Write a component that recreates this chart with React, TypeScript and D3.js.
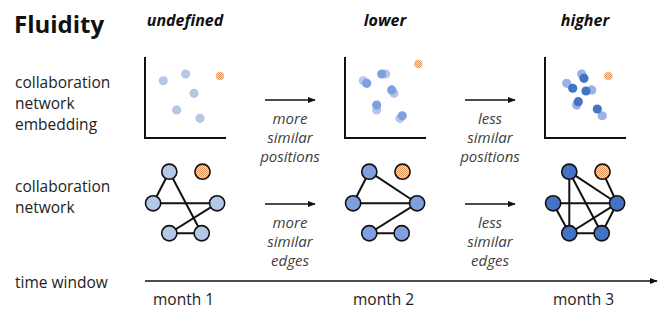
import React from 'react'
import * as d3 from 'd3'

// column headings / time labels
const fluidityLevels = ['undefined', 'lower', 'higher']
const months = ['month 1', 'month 2', 'month 3']
const rowLabels = [['collaboration', 'network', 'embedding'], ['collaboration', 'network']]
const embedNotes = [['more', 'similar', 'positions'], ['less', 'similar', 'positions']]
const edgeNotes = [['more', 'similar', 'edges'], ['less', 'similar', 'edges']]

// embedding coordinates per month (axis units 0..10), last point = isolated (orange) member
const embedX = [
  [2.26, 5.02, 6.05, 3.91, 6.79, 9.26],
  [2.68, 4.53, 5.77, 3.91, 7.07, 9.05],
  [3.42, 4.81, 5.06, 4.11, 6.46, 7.81],
]
const embedY = [
  [7.07, 7.9, 5.52, 3.46, 2.43, 7.65],
  [6.75, 7.9, 5.93, 4.07, 2.75, 9.14],
  [6.14, 7.37, 5.8, 4.48, 3.58, 7.65],
]

// network layout (same for each month), units 0..10
const nodeNames = ['top', 'iso', 'left', 'right', 'bl', 'br']
const nodeX = [3.0, 7.1, 1.0, 8.9, 3.0, 7.0]
const nodeY = [9.05, 9.05, 5.15, 5.15, 1.45, 1.45]
const edges = [
  [['top', 'left'], ['top', 'br'], ['left', 'right'], ['right', 'bl'], ['bl', 'br']],
  [['top', 'left'], ['top', 'right'], ['left', 'right'], ['right', 'bl'], ['bl', 'br']],
  [['top', 'right'], ['top', 'bl'], ['top', 'br'], ['left', 'right'], ['left', 'bl'],
   ['bl', 'br'], ['bl', 'right'], ['iso', 'right'], ['right', 'br']],
]

const nodeFill = ['#b4c7e7', '#7f9fe0', '#4472c4']
const trailFill = ['#b4c7e7', '#a7bdea', '#87a5e4']
const panelX0 = [145, 345, 545]
const font = "'Open Sans', 'Noto Sans', sans-serif"

export default function App() {
  const unit = 8.1
  const sx = (p: number) => d3.scaleLinear().domain([0, 10]).range([panelX0[p], panelX0[p] + 10 * unit])
  const syEmbed = d3.scaleLinear().domain([0, 10]).range([138, 138 - 10 * unit])
  const syNet = d3.scaleLinear().domain([0, 10]).range([245, 245 - 10 * unit])
  const idx = (n: string) => nodeNames.indexOf(n)

  return (
    <div style={{ position: 'absolute', left: 0, top: 0 }}>
      <svg width={664} height={310} style={{ display: 'block', background: '#fff' }} fontFamily={font}>
        <defs>
          <pattern id="orangeDots" patternUnits="userSpaceOnUse" width={2} height={2}>
            <rect width={2} height={2} fill="#fbd9bf" />
            <rect width={1} height={1} fill="#ec965a" />
            <rect x={1} y={1} width={1} height={1} fill="#ec965a" />
          </pattern>
          <marker id="arr" viewBox="0 0 10 10" refX={9} refY={5} markerWidth={8} markerHeight={8} orient="auto" markerUnits="userSpaceOnUse">
            <path d="M0,1 L10,5 L0,9 Z" fill="#111" />
          </marker>
        </defs>

        <text x={14} y={33} fontSize={24} fontWeight={700} fill="#111">Fluidity</text>
        {fluidityLevels.map((t, i) => (
          <text key={t} x={panelX0[i] + 40} y={26} textAnchor="middle" fontSize={16}
            fontStyle="italic" fontWeight={700} fill="#111">{t}</text>
        ))}

        {rowLabels.map((lines, r) => (
          <text key={r} x={15} y={r === 0 ? 88 : 192} fontSize={15.5} fill="#222">
            {lines.map((l, k) => <tspan key={k} x={15} dy={k === 0 ? 0 : 21}>{l}</tspan>)}
          </text>
        ))}

        {/* embedding scatter panels */}
        {embedX.map((xs, p) => {
          const x = sx(p)
          return (
            <g key={'e' + p}>
              <path d={`M${x(0)},${syEmbed(10)} V${syEmbed(0)} H${x(10)}`} fill="none" stroke="#111" strokeWidth={2} />
              {p > 0 && embedX[p - 1].slice(0, 5).map((v, k) => (
                <circle key={'t' + k} cx={x(v)} cy={syEmbed(embedY[p - 1][k])} r={4.6} fill={trailFill[p]} opacity={0.85} />
              ))}
              {xs.slice(0, 5).map((v, k) => (
                <circle key={k} cx={x(v)} cy={syEmbed(embedY[p][k])} r={4.6} fill={nodeFill[p]} />
              ))}
              <circle cx={x(xs[5])} cy={syEmbed(embedY[p][5])} r={4.3} fill="url(#orangeDots)" />
            </g>
          )
        })}

        {/* network panels */}
        {edges.map((es, p) => {
          const x = sx(p)
          return (
            <g key={'n' + p}>
              {es.map(([a, b], k) => (
                <line key={k} x1={x(nodeX[idx(a)])} y1={syNet(nodeY[idx(a)])} x2={x(nodeX[idx(b)])} y2={syNet(nodeY[idx(b)])}
                  stroke="#111" strokeWidth={2} />
              ))}
              {nodeNames.map((n, k) => (
                <circle key={n} cx={x(nodeX[k])} cy={syNet(nodeY[k])} r={7.6}
                  fill={n === 'iso' ? 'url(#orangeDots)' : nodeFill[p]} stroke="#111" strokeWidth={1.6} />
              ))}
            </g>
          )
        })}

        {/* transition arrows and notes */}
        {embedNotes.map((lines, i) => {
          const cx = panelX0[i] + 145
          return (
            <g key={'a' + i}>
              <line x1={cx - 25} y1={100} x2={cx + 25} y2={100} stroke="#111" strokeWidth={1.6} markerEnd="url(#arr)" />
              <text x={cx} y={124} textAnchor="middle" fontSize={15} fontStyle="italic" fill="#404040">
                {lines.map((l, k) => <tspan key={k} x={cx} dy={k === 0 ? 0 : 19}>{l}</tspan>)}
              </text>
              <line x1={cx - 25} y1={204} x2={cx + 25} y2={204} stroke="#111" strokeWidth={1.6} markerEnd="url(#arr)" />
              <text x={cx} y={228} textAnchor="middle" fontSize={15} fontStyle="italic" fill="#404040">
                {edgeNotes[i].map((l, k) => <tspan key={k} x={cx} dy={k === 0 ? 0 : 19}>{l}</tspan>)}
              </text>
            </g>
          )
        })}

        {/* time axis */}
        <text x={15} y={288} fontSize={15.5} fill="#222">time window</text>
        <line x1={145} y1={281} x2={657} y2={281} stroke="#111" strokeWidth={1.6} markerEnd="url(#arr)" />
        {months.map((m, i) => (
          <text key={m} x={panelX0[i] + 8} y={305} fontSize={15.5} fill="#222">{m}</text>
        ))}
      </svg>
    </div>
  )
}
